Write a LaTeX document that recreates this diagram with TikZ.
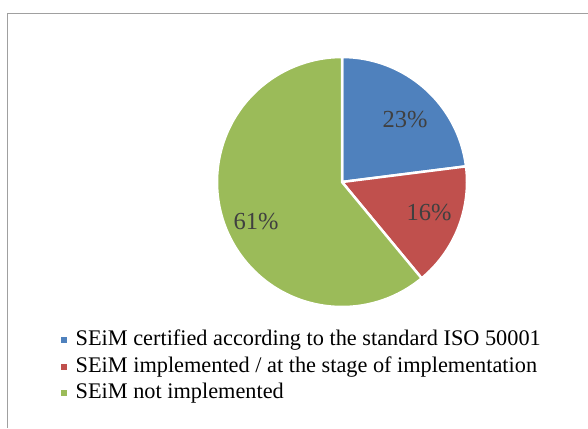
\documentclass[tikz,border=0pt]{standalone}
\usepackage{fontspec}
\setmainfont{Liberation Serif}
\definecolor{pblue}{HTML}{4F81BD}
\definecolor{pred}{HTML}{C0504D}
\definecolor{pgreen}{HTML}{9BBB59}
\definecolor{lbl}{HTML}{404040}
\definecolor{frame}{HTML}{A0A0A0}
\begin{document}
\begin{tikzpicture}[x=1pt,y=-1pt,
  slice/.style={draw=white,line width=2.5pt,line join=round},
  pct/.style={text=lbl,font=\fontsize{24.5}{28}\selectfont,inner sep=0pt},
  legtxt/.style={anchor=base west,font=\fontsize{22.3}{26}\selectfont,inner sep=0pt},
  legsq/.style={minimum size=6pt,inner sep=0pt}]
\useasboundingbox (0,0) rectangle (588,428);
\fill[white] (0,0) rectangle (588,428);
\draw[frame,line width=1.2pt] (7.5,428) -- (7.5,13.5) -- (588,13.5);
\coordinate (c) at (342,182);
\def\R{125}
\fill[pblue,slice] (c) -- ++(-90:\R) arc[start angle=-90,end angle=-7.2,radius=\R] -- cycle;
\fill[pred,slice] (c) -- ++(-7.2:\R) arc[start angle=-7.2,end angle=50.4,radius=\R] -- cycle;
\fill[pgreen,slice] (c) -- ++(50.4:\R) arc[start angle=50.4,end angle=270,radius=\R] -- cycle;
\node[pct] (p23) at (405,120) {23\%};
\node[pct] (p16) at (429,213) {16\%};
\node[pct] (p61) at (256,222) {61\%};
\node[legtxt] (l1) at (75.5,345.5) {SEiM certified according to the standard ISO 50001};
\node[legtxt] (l2) at (75.5,372.5) {SEiM implemented / at the stage of implementation};
\node[legtxt] (l3) at (75.5,398.5) {SEiM not implemented};
\node[legsq,fill=pblue] (s1) at (64,339.5) {};
\node[legsq,fill=pred] (s2) at (64,366.5) {};
\node[legsq,fill=pgreen] (s3) at (64,392.5) {};
\end{tikzpicture}
\end{document}
